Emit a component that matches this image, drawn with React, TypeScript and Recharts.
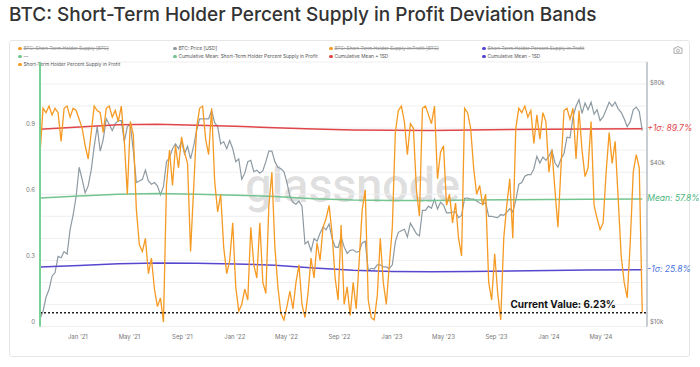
import { CartesianGrid, Line, LineChart, ReferenceLine, XAxis, YAxis } from "recharts";

// weekly samples starting Mon 5 Oct 2020
const START = Date.UTC(2020, 9, 5);
const WEEK = 7 * 24 * 3600 * 1000;

// STH percent supply in profit (0..1), one value per week, by year
const sth2020 = [0.78, 0.99, 0.97, 1.0, 0.96, 0.99, 0.97, 0.84, 0.99, 1.0, 0.95, 0.99, 0.98];
const sth2021 = [
  0.94, 0.9, 0.82, 0.76, 0.88, 1.0, 0.98, 0.97, 0.88, 0.99, 1.0, 0.95, 0.98, 0.93, 1.0, 0.84, 0.6, 0.93,
  0.87, 0.53, 0.37, 0.34, 0.4, 0.24, 0.31, 0.17, 0.09, 0.13, 0.02, 0.64, 0.8, 0.64, 0.82, 0.72, 0.86,
  0.79, 0.74, 0.34, 0.62, 0.9, 0.99, 1.0, 0.85, 0.78, 0.99, 0.66, 0.52, 0.6, 0.36, 0.24, 0.3, 0.47,
];
const sth2022 = [
  0.18, 0.07, 0.1, 0.17, 0.12, 0.45, 0.28, 0.22, 0.47, 0.2, 0.15, 0.55, 0.7, 0.36, 0.18, 0.06, 0.03, 0.09,
  0.16, 0.08, 0.2, 0.28, 0.1, 0.04, 0.15, 0.31, 0.22, 0.38, 0.3, 0.45, 0.49, 0.55, 0.42, 0.22, 0.12, 0.46,
  0.1, 0.18, 0.05, 0.2, 0.08, 0.3, 0.53, 0.62, 0.12, 0.04, 0.03, 0.14, 0.4, 0.2, 0.1, 0.28,
];
const sth2023 = [
  0.45, 0.88, 0.98, 1.0, 0.93, 0.78, 0.92, 0.9, 0.62, 0.5, 0.99, 1.0, 0.96, 0.92, 1.0, 0.67, 0.79, 0.82,
  0.55, 0.6, 0.47, 0.56, 0.4, 0.32, 0.99, 0.97, 0.9, 0.72, 0.6, 0.64, 0.55, 0.6, 0.2, 0.12, 0.33, 0.15,
  0.03, 0.4, 0.55, 0.67, 0.4, 0.9, 0.99, 0.97, 1.0, 0.95, 0.98, 0.83, 0.96, 0.85, 0.97, 0.93,
];
const sth2024 = [
  0.7, 0.8, 0.62, 0.45, 0.72, 0.98, 0.99, 0.94, 0.99, 0.76, 0.98, 0.8, 0.68, 0.72, 0.93, 0.55, 0.49, 0.44,
  0.47, 0.7, 0.88, 0.74, 0.84, 0.58, 0.32, 0.2, 0.13, 0.38, 0.7, 0.78, 0.72, 0.0623,
];

// BTC price [USD], weekly
const price2020 = [10700, 11400, 12900, 13800, 15500, 16000, 18400, 18200, 19200, 18800, 23300, 26400, 31000];
const price2021 = [
  40000, 36000, 32000, 34000, 39000, 48000, 57000, 46000, 51000, 61000, 58000, 55000, 58500, 60000, 60000,
  50000, 57000, 58000, 46000, 35000, 35500, 36000, 39000, 35500, 34500, 35000, 34000, 31500, 33800, 42000,
  43500, 47000, 49000, 47000, 50000, 45000, 48000, 43000, 48000, 55000, 61000, 61000, 61000, 61000, 65500,
  59000, 57000, 49000, 50000, 47000, 50500, 47000,
];
const price2022 = [
  42000, 43000, 36000, 38000, 42000, 42500, 38500, 39000, 38000, 38800, 42000, 46000, 46000, 42000, 40000,
  39500, 38500, 35000, 31000, 29500, 29000, 29800, 28500, 20500, 21000, 19300, 21500, 21000, 22500, 23800,
  23200, 24400, 21500, 20000, 19900, 21800, 20000, 18900, 19400, 19500, 19100, 19200, 20700, 21000, 16300,
  16600, 16500, 17100, 17100, 16800, 16800, 16550,
];
const price2023 = [
  17100, 20900, 22700, 23000, 23300, 21800, 24600, 23500, 22400, 22000, 27500, 27500, 28500, 28000, 30300,
  27800, 29500, 28800, 26900, 26900, 27100, 27100, 25800, 26300, 30500, 30600, 30300, 30300, 29800, 29300,
  29000, 29400, 26100, 26100, 25900, 25800, 26500, 26300, 27000, 27900, 27100, 30000, 34500, 35000, 37000,
  37500, 37500, 39500, 44000, 41500, 43700, 42500,
];
const price2024 = [
  44000, 46500, 41600, 40000, 43000, 45000, 52000, 51700, 62000, 68000, 72000, 64000, 70000, 66000, 70500,
  63500, 66000, 60000, 62000, 66000, 70500, 68000, 70500, 66500, 64500, 61000, 57000, 59500, 66000, 67500,
  65000, 55000,
];

// cumulative mean and +/- 1 SD, sampled at these week indices
const bandWeeks = [0, 13, 26, 39, 52, 65, 78, 91, 104, 117, 130, 143, 156, 169, 182, 200];
const upperBand = [0.895, 0.905, 0.915, 0.918, 0.913, 0.908, 0.902, 0.896, 0.892, 0.89, 0.889, 0.892, 0.894, 0.895, 0.896, 0.897];
const meanBand = [0.583, 0.592, 0.6, 0.603, 0.6, 0.596, 0.59, 0.58, 0.574, 0.572, 0.572, 0.574, 0.575, 0.576, 0.577, 0.578];
const lowerBand = [0.27, 0.277, 0.285, 0.288, 0.287, 0.284, 0.278, 0.265, 0.255, 0.25, 0.248, 0.25, 0.252, 0.254, 0.256, 0.258];

const CURRENT = 0.0623;
const monthTicks = ["2021-01", "2021-05", "2021-09", "2022-01", "2022-05", "2022-09", "2023-01", "2023-05", "2023-09", "2024-01", "2024-05"];
const pctTicks = [0, 0.1, 0.2, 0.3, 0.4, 0.5, 0.6, 0.7, 0.8, 0.9, 1.0, 1.1, 1.2];
const pctLabels = [0, 0.3, 0.6, 0.9];
const priceTicks = [10000, 40000, 80000];
const MONTHS = ["Jan", "Feb", "Mar", "Apr", "May", "Jun", "Jul", "Aug", "Sep", "Oct", "Nov", "Dec"];

const sth = [...sth2020, ...sth2021, ...sth2022, ...sth2023, ...sth2024];
const price = [...price2020, ...price2021, ...price2022, ...price2023, ...price2024];
const data = sth.map((v, i) => {
  const b = bandWeeks.indexOf(i);
  return {
    t: START + i * WEEK,
    sth: v,
    price: price[i],
    upper: b >= 0 ? upperBand[b] : null,
    mean: b >= 0 ? meanBand[b] : null,
    lower: b >= 0 ? lowerBand[b] : null,
  };
});
const LAST = data.length - 1;
const xTicks = monthTicks.map((m) => Date.UTC(+m.slice(0, 4), +m.slice(5) - 1, 1));

const C = {
  orange: "#f59a23",
  gray: "#8e9aa2",
  red: "#df4549",
  green: "#74c490",
  purple: "#5747cf",
  redText: "#e0474c",
  greenText: "#4db67c",
  blueText: "#4a72dc",
};

const FONT = "Inter, Roboto, sans-serif";

const fmtMonth = (t: number) => {
  const d = new Date(t);
  return `${MONTHS[d.getUTCMonth()]} '${String(d.getUTCFullYear()).slice(2)}`;
};

const bandLabel = (text: string, color: string) => (props: any) =>
  props.index === LAST ? (
    <text
      x={Number(props.x) + 5}
      y={Number(props.y)}
      fill={color}
      fontSize={8.5}
      fontStyle="italic"
      fontFamily={FONT}
      dominantBaseline="middle"
    >
      {text}
    </text>
  ) : (
    <g />
  );

const legendRows = [
  [
    { c: C.orange, t: "BTC: Short-Term Holder Supply [BTC]", off: true },
    { c: C.gray, t: "BTC: Price [USD]" },
    { c: C.orange, t: "BTC: Short-Term Holder Supply in Profit [BTC]", off: true },
    { c: C.purple, t: "Short-Term Holder Percent Supply in Profit", off: true },
  ],
  [
    { c: C.green, t: "—" },
    { c: C.green, t: "Cumulative Mean: Short-Term Holder Percent Supply in Profit" },
    { c: C.red, t: "Cumulative Mean + 1SD" },
    { c: C.purple, t: "Cumulative Mean - 1SD" },
  ],
  [{ c: C.orange, t: "Short-Term Holder Percent Supply in Profit" }],
];
const legendCols = [18, 173, 329, 482];
const legendTops = [45, 53, 61];

export default function App() {
  return (
    <div style={{ position: "fixed", left: 0, top: 0, width: 700, height: 367, background: "#fff", fontFamily: FONT, overflow: "hidden" }}>
      <div style={{ position: "absolute", left: 9, top: 3, fontSize: 19, fontWeight: 500, color: "#333", whiteSpace: "nowrap" }}>
        BTC: Short-Term Holder Percent Supply in Profit Deviation Bands
      </div>
      <div style={{ position: "absolute", left: 9, top: 40, width: 679, height: 315, border: "1px solid #e6e6e6", borderRadius: 3 }} />
      <div style={{ position: "absolute", left: 245, top: 158, fontSize: 47.5, fontWeight: 500, color: "rgba(0,0,0,0.12)", letterSpacing: -0.5, fontFamily: "Roboto, sans-serif" }}>
        glassnode
      </div>
      {legendRows.map((row, r) =>
        row.map((it, c) => (
          <div
            key={`${r}-${c}`}
            style={{ position: "absolute", left: legendCols[c], top: legendTops[r], fontSize: 4.8, lineHeight: "7px", color: it.off ? "#9a9a9a" : "#555", whiteSpace: "nowrap", display: "flex", alignItems: "center" }}
          >
            <span style={{ width: 3.5, height: 3.5, borderRadius: 2, background: it.c, marginRight: 2, display: "inline-block" }} />
            <span style={{ textDecoration: it.off ? "line-through" : "none" }}>{it.t}</span>
          </div>
        ))
      )}
      <svg style={{ position: "absolute", left: 673, top: 46 }} width={10} height={8} viewBox="0 0 10 8">
        <path d="M1 2h2l1-1.3h2L7 2h2v5.3H1z" fill="none" stroke="#999" strokeWidth={0.8} />
        <circle cx={5} cy={4.6} r={1.5} fill="none" stroke="#999" strokeWidth={0.8} />
      </svg>
      <div style={{ position: "absolute", left: 0, top: 0 }}>
        <LineChart width={700} height={367} data={data} margin={{ top: 62, right: 3, left: 10, bottom: 20 }}>
          <CartesianGrid yAxisId="pct" vertical={false} stroke="#efefef" />
          <XAxis
            dataKey="t"
            type="number"
            scale="time"
            domain={[START, Date.UTC(2024, 7, 16)]}
            ticks={xTicks}
            tickFormatter={fmtMonth}
            axisLine={false}
            tickLine={false}
            tickSize={0}
            tickMargin={8}
            height={20.5}
            tick={{ fontSize: 6, fill: "#777", fontFamily: FONT }}
          />
          <YAxis
            yAxisId="pct"
            domain={[0, 1.2]}
            ticks={pctTicks}
            width={30}
            tickSize={0}
            tickMargin={5}
            axisLine={{ stroke: "#79d197", strokeWidth: 2 }}
            tickLine={false}
            interval={0}
            tick={(p: any) =>
              pctLabels.includes(p.payload.value) ? (
                <text x={p.x} y={p.y - 4} textAnchor="end" dominantBaseline="middle" fontSize={6} fill="#777" fontFamily={FONT}>
                  {p.payload.value}
                </text>
              ) : (
                <g />
              )
            }
          />
          <YAxis
            yAxisId="usd"
            orientation="right"
            scale="log"
            domain={[10000, 100000]}
            allowDataOverflow
            ticks={priceTicks}
            width={50}
            tickSize={0}
            tickMargin={3}
            interval={0}
            axisLine={{ stroke: "#b4bcc3", strokeWidth: 1.5 }}
            tickLine={false}
            tick={(p: any) => (
              <text x={p.x} y={p.y - 4} textAnchor="start" dominantBaseline="middle" fontSize={6} fill="#777" fontFamily={FONT}>
                {`$${p.payload.value / 1000}k`}
              </text>
            )}
          />
          <Line yAxisId="usd" dataKey="price" stroke={C.gray} strokeWidth={1.2} dot={false} isAnimationActive={false} />
          <Line yAxisId="pct" dataKey="upper" stroke={C.red} strokeWidth={1.5} dot={false} connectNulls isAnimationActive={false} label={bandLabel("+1σ: 89.7%", C.redText)} />
          <Line yAxisId="pct" dataKey="mean" stroke={C.green} strokeWidth={1.5} dot={false} connectNulls isAnimationActive={false} label={bandLabel("Mean: 57.8%", C.greenText)} />
          <Line yAxisId="pct" dataKey="lower" stroke={C.purple} strokeWidth={1.5} dot={false} connectNulls isAnimationActive={false} label={bandLabel("-1σ: 25.8%", C.blueText)} />
          <Line yAxisId="pct" dataKey="sth" stroke={C.orange} strokeWidth={1.3} dot={false} isAnimationActive={false} />
          <ReferenceLine
            yAxisId="pct"
            y={CURRENT}
            stroke="#222"
            strokeWidth={1.5}
            strokeDasharray="2 2"
            label={(p: any) => (
              <text
                x={p.viewBox.x + p.viewBox.width - 31}
                y={p.viewBox.y - 5}
                textAnchor="end"
                fontSize={10}
                fontWeight={700}
                fill="#111"
                fontFamily={FONT}
              >
                {`Current Value: ${(CURRENT * 100).toFixed(2)}%`}
              </text>
            )}
          />
        </LineChart>
      </div>
    </div>
  );
}
